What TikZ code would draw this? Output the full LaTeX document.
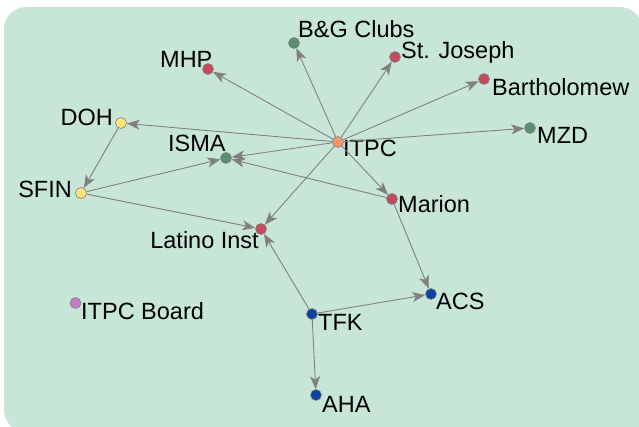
\documentclass[tikz,border=0pt]{standalone}
\usepackage{fontspec}
\setmainfont{Liberation Sans}
\usetikzlibrary{arrows.meta}
\definecolor{bgc}{HTML}{C8E6D7}
\definecolor{edgec}{HTML}{808080}
\definecolor{corange}{HTML}{F89468}
\definecolor{cgreen}{HTML}{5B8F6F}
\definecolor{cred}{HTML}{C44A5E}
\definecolor{cyellow}{HTML}{FFE47C}
\definecolor{cpurple}{HTML}{C07CC4}
\definecolor{cblue}{HTML}{1242A0}
\tikzset{
  vtx/.style={circle, minimum size=11pt, inner sep=0pt, draw=edgec, line width=0.6pt},
  lbl/.style={anchor=base west, inner sep=0pt, font=\fontsize{23.5}{26}\selectfont},
  lble/.style={anchor=base east, inner sep=0pt, font=\fontsize{23.5}{26}\selectfont},
  link/.style={draw=edgec, line width=0.9pt, -{Stealth[length=13pt, width=10pt, inset=3.5pt]}}
}
\begin{document}
\begin{tikzpicture}[x=1pt, y=-1pt]
\useasboundingbox (0,0) rectangle (639,427);
\begin{scope}
\clip (0,0) rectangle (639,427);
\fill[bgc, rounded corners=22pt] (4,7) rectangle (642,432);
\fill[bgc] (500,300) rectangle (650,440);
\end{scope}
% nodes
\node[vtx, fill=corange] (itpc) at (338,142) {};
\node[vtx, fill=cgreen] (bg) at (294,43) {};
\node[vtx, fill=cred] (mhp) at (208,69) {};
\node[vtx, fill=cred] (stj) at (395,57) {};
\node[vtx, fill=cred] (bar) at (484,79) {};
\node[vtx, fill=cgreen] (mzd) at (530,128) {};
\node[vtx, fill=cyellow] (doh) at (121,123) {};
\node[vtx, fill=cgreen] (isma) at (226,158) {};
\node[vtx, fill=cyellow] (sfin) at (81,193) {};
\node[vtx, fill=cred] (mar) at (392,199) {};
\node[vtx, fill=cred] (lat) at (261,229) {};
\node[vtx, fill=cpurple] (board) at (75.5,303) {};
\node[vtx, fill=cblue] (tfk) at (312,314) {};
\node[vtx, fill=cblue] (acs) at (431,294) {};
\node[vtx, fill=cblue] (aha) at (316,395) {};
% labels
\node[lbl] (litpc) at (343,157) {ITPC};
\node[lbl] (lbg) at (298,38) {B\&G Clubs};
\node[lbl] (lmhp) at (160,68) {MHP};
\node[lbl] (lstj) at (401,59) {St. Joseph};
\node[lbl] (lbar) at (492,96) {Bartholomew};
\node[lbl] (lmzd) at (537,144) {MZD};
\node[lble] (ldoh) at (113,126) {DOH};
\node[lbl] (lisma) at (168,152) {ISMA};
\node[lble] (lsfin) at (72,198) {SFIN};
\node[lbl] (lmar) at (398,213) {Marion};
\node[lble] (llat) at (259,249) {Latino Inst};
\node[lbl] (lboard) at (81,319) {ITPC Board};
\node[lbl] (ltfk) at (318,330) {TFK};
\node[lbl] (lacs) at (436,309) {ACS};
\node[lbl] (laha) at (322,412) {AHA};
% edges
\draw[link] (itpc) -- (bg);
\draw[link] (itpc) -- (mhp);
\draw[link] (itpc) -- (stj);
\draw[link] (itpc) -- (bar);
\draw[link] (itpc) -- (mzd);
\draw[link] (itpc) -- (doh);
\draw[link] (itpc) -- (isma);
\draw[link] (itpc) -- (mar);
\draw[link] (itpc) -- (lat);
\draw[link] (mar) -- (isma);
\draw[link] (doh) -- (sfin);
\draw[link] (sfin) -- (isma);
\draw[link] (sfin) -- (lat);
\draw[link] (mar) -- (acs);
\draw[link] (tfk) -- (lat);
\draw[link] (tfk) -- (acs);
\draw[link] (tfk) -- (aha);
\end{tikzpicture}
\end{document}
